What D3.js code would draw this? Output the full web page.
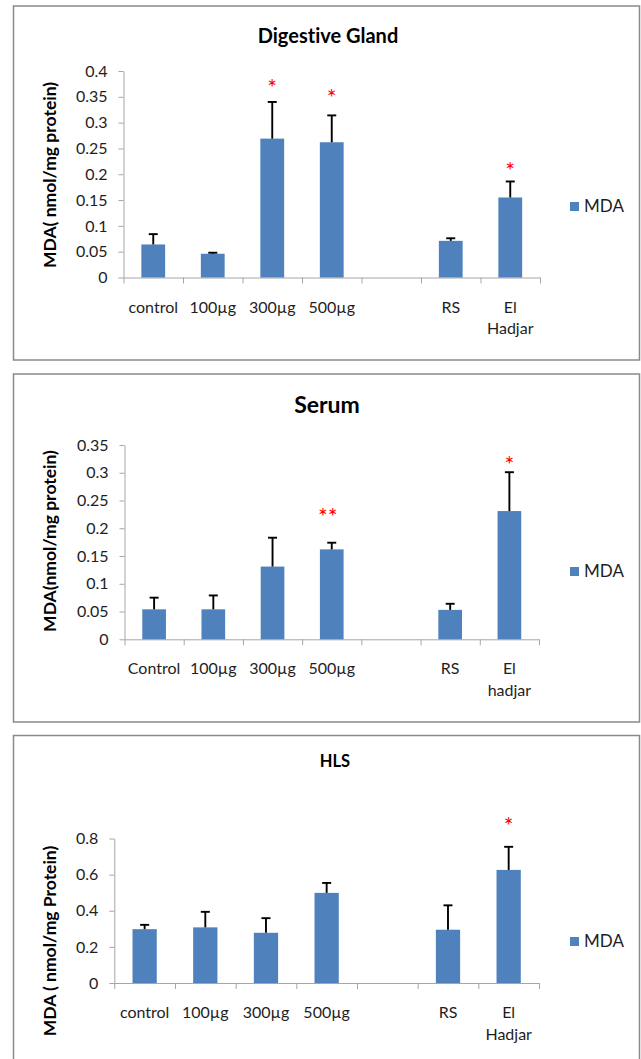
<!DOCTYPE html>
<html><head><meta charset="utf-8">
<script src="https://cdn.jsdelivr.net/npm/d3@7"></script>
<style>
body{margin:0;background:#fff}
svg{display:block}
text{font-family:Lato,"Open Sans",sans-serif;font-variant-ligatures:none}
</style>
</head><body>
<svg id="c" width="641" height="1059"></svg>
<script>
// ---------- DATA ----------
const dgCategories    = ["control","100µg","300µg","500µg","","RS","El\nHadjar"];
const dgMeans         = [0.064, 0.046, 0.269, 0.262, null, 0.071, 0.155];
const dgErrors        = [0.020, 0.002, 0.071, 0.052, null, 0.005, 0.031];
const dgStars         = ["", "", "*", "*", "", "", "*"];
const dgStarAt        = [null, null, 0.379, 0.358, null, null, 0.218];
const dgTicks         = [0, 0.05, 0.1, 0.15, 0.2, 0.25, 0.3, 0.35, 0.4];

const serumCategories = ["Control","100µg","300µg","500µg","","RS","El\nhadjar"];
const serumMeans      = [0.054, 0.054, 0.131, 0.162, null, 0.053, 0.231];
const serumErrors     = [0.021, 0.025, 0.052, 0.012, null, 0.011, 0.070];
const serumStars      = ["", "", "", "**", "", "", "*"];
const serumStarAt     = [null, null, null, 0.231, null, null, 0.325];
const serumTicks      = [0, 0.05, 0.1, 0.15, 0.2, 0.25, 0.3, 0.35];

const hlsCategories   = ["control","100µg","300µg","500µg","","RS","El\nHadjar"];
const hlsMeans        = [0.298, 0.308, 0.278, 0.499, null, 0.295, 0.626];
const hlsErrors       = [0.024, 0.086, 0.081, 0.055, null, 0.135, 0.128];
const hlsStars        = ["", "", "", "", "", "", "*"];
const hlsStarAt       = [null, null, null, null, null, null, 0.90];
const hlsTicks        = [0, 0.2, 0.4, 0.6, 0.8];

const seriesName = "MDA";
const titles  = ["Digestive Gland", "Serum", "HLS"];
const yTitles = ["MDA( nmol/mg protein)", "MDA(nmol/mg protein)", "MDA ( nmol/mg Protein)"];

// ---------- LAYOUT ----------
const layouts = [
  {fy0:6,   fy1:360,  x0:123.5, x1:540, yTop:71,    yBot:277.5, tY:43,    tX:328, tSize:20, yt:[50,175], leg:202},
  {fy0:374, fy1:722,  x0:124.5, x1:539, yTop:445,   yBot:639.3, tY:412.7, tX:327, tSize:23, yt:[50,541], leg:567},
  {fy0:735.5, fy1:1075, x0:114.3, x1:539, yTop:838.5, yBot:983,   tY:766.7, tX:335, tSize:16.5, yt:[50,941], leg:937}
];

const panels = [
  {cats:dgCategories, means:dgMeans, errs:dgErrors, stars:dgStars, starAt:dgStarAt, ticks:dgTicks},
  {cats:serumCategories, means:serumMeans, errs:serumErrors, stars:serumStars, starAt:serumStarAt, ticks:serumTicks},
  {cats:hlsCategories, means:hlsMeans, errs:hlsErrors, stars:hlsStars, starAt:hlsStarAt, ticks:hlsTicks}
];

const BAR = "#4F81BD", AXIS = "#a6a6a6", TXT = "#1e1e1e";
const svg = d3.select("#c");

panels.forEach((p, i) => {
  const L = layouts[i];
  const g = svg.append("g");

  // frame
  g.append("rect").attr("x", 13.5).attr("y", L.fy0).attr("width", 626).attr("height", L.fy1 - L.fy0)
    .attr("fill", "#fff").attr("stroke", "#8a8a8a").attr("stroke-width", 1.5);

  const idx = d3.range(p.cats.length);
  const x = d3.scaleBand().domain(idx).range([L.x0, L.x1]).paddingInner(0.6).paddingOuter(0.3);
  const xb = d3.scaleLinear().domain([0, p.cats.length]).range([L.x0, L.x1]);
  const yMax = p.ticks[p.ticks.length - 1];
  const y = d3.scaleLinear().domain([0, yMax]).range([L.yBot, L.yTop]);

  // y axis
  const ya = g.append("g").attr("transform", `translate(${L.x0},0)`)
    .call(d3.axisLeft(y).tickValues(p.ticks).tickSize(5).tickSizeOuter(0).tickPadding(11)
      .tickFormat(d => String(+d.toFixed(2))));
  ya.select(".domain").attr("stroke", AXIS);
  ya.selectAll(".tick line").attr("stroke", AXIS);
  ya.selectAll(".tick text").attr("fill", TXT).style("font-size", "16px").style("font-family", "Lato");

  // x axis with boundary ticks
  const xa = g.append("g").attr("transform", `translate(0,${L.yBot})`)
    .call(d3.axisBottom(xb).tickValues(d3.range(p.cats.length + 1)).tickSize(6).tickSizeOuter(0).tickFormat(""));
  xa.select(".domain").attr("stroke", AXIS);
  xa.selectAll(".tick line").attr("stroke", AXIS);

  // category labels
  const cl = g.append("g").selectAll("text").data(idx).join("text")
    .attr("x", d => x(d) + x.bandwidth() / 2).attr("y", L.yBot + 35)
    .attr("text-anchor", "middle").attr("fill", TXT).style("font-size", "16px");
  cl.each(function(d) {
    const lines = p.cats[d].split("\n");
    d3.select(this).selectAll("tspan").data(lines).join("tspan")
      .attr("x", x(d) + x.bandwidth() / 2).attr("dy", (l, k) => k === 0 ? 0 : 21.7).text(l => l);
  });

  const valid = idx.filter(d => p.means[d] != null);

  // bars
  g.append("g").selectAll("rect").data(valid).join("rect")
    .attr("x", d => x(d)).attr("width", x.bandwidth())
    .attr("y", d => y(p.means[d])).attr("height", d => y(0) - y(p.means[d]))
    .attr("fill", BAR);

  // error bars (upper only)
  const eb = g.append("g").attr("stroke", "#000").attr("stroke-width", 1.9);
  valid.forEach(d => {
    const cx = x(d) + x.bandwidth() / 2;
    const yt = y(p.means[d] + p.errs[d]);
    eb.append("line").attr("x1", cx).attr("x2", cx).attr("y1", y(p.means[d])).attr("y2", yt);
    eb.append("line").attr("x1", cx - 4.5).attr("x2", cx + 4.5).attr("y1", yt).attr("y2", yt);
  });

  // significance stars
  g.append("g").selectAll("text").data(idx.filter(d => p.stars[d])).join("text")
    .attr("x", d => x(d) + x.bandwidth() / 2 - (p.stars[d].length > 1 ? 4 : 0)).attr("y", d => y(p.starAt[d]))
    .attr("dy", "0.6em").attr("text-anchor", "middle").attr("fill", "#ff0000")
    .style("font-size", "23px").style("letter-spacing", "0px").text(d => p.stars[d]);

  // titles
  g.append("text").attr("x", L.tX).attr("y", L.tY).attr("text-anchor", "middle")
    .attr("fill", "#000").style("font-weight", "bold").style("font-size", L.tSize + "px").text(titles[i]);
  g.append("text").attr("transform", `translate(${L.yt[0]},${L.yt[1]}) rotate(-90)`)
    .attr("text-anchor", "middle").attr("dy", "0.35em")
    .attr("fill", "#000").style("font-weight", "bold").style("font-size", "17.5px").text(yTitles[i]);

  // legend
  g.append("rect").attr("x", 570).attr("y", L.leg).attr("width", 9).attr("height", 9).attr("fill", BAR);
  g.append("text").attr("x", 584).attr("y", L.leg + 10).attr("fill", TXT).style("font-size", "17px").text(seriesName);
});
</script>
</body></html>
